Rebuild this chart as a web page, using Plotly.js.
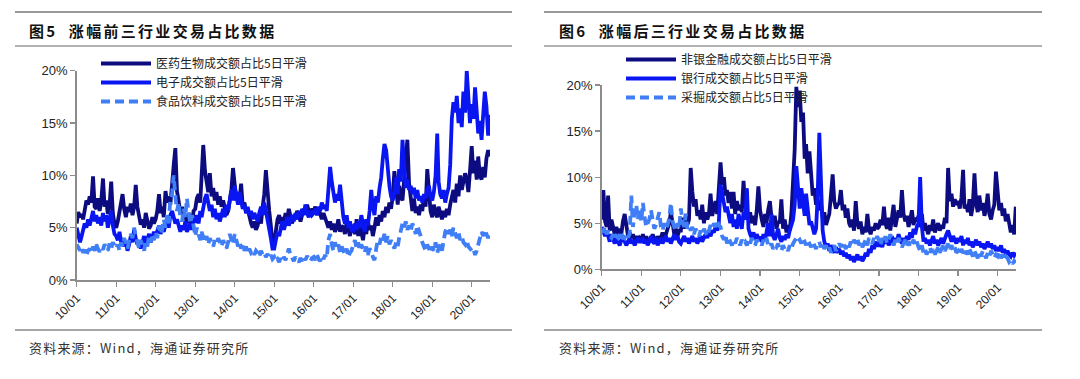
<!DOCTYPE html>
<html>
<head>
<meta charset="utf-8">
<script src="https://cdn.plot.ly/plotly-3.0.1.min.js"></script>
<style>
html,body{margin:0;padding:0;background:#fff;}
#chart{width:1080px;height:379px;}
g.annotation[data-index="0"] text, g.annotation[data-index="2"] text{letter-spacing:2.3px;}
g.annotation[data-index="1"] text, g.annotation[data-index="3"] text{letter-spacing:1.2px;}
</style>
</head>
<body>
<div id="chart"></div>
<script>
// ---- tick labels (year starts) ----
const yearTicks = ['10/01','11/01','12/01','13/01','14/01','15/01','16/01','17/01','18/01','19/01','20/01'];

// ---- Figure 5: top-three industries, 5-day smoothed turnover share (%), half-monthly readings ----
const pharma = [ // 医药生物
 5.4,6.5,6.0,6.3,5.8,7.0,7.6,7.2,8.0,7.4,9.9,7.0,6.8,7.8,6.6,7.5,9.7,7.0,7.6,6.3,7.2,9.4,6.4,5.4,
 5.0,5.6,6.4,7.2,8.2,6.8,6.0,7.0,6.5,7.3,6.2,7.0,9.1,7.0,6.2,5.3,5.8,5.0,6.4,5.6,4.9,5.2,6.0,5.4,
 5.8,6.6,8.2,6.4,7.0,6.0,8.5,7.4,8.0,7.2,9.6,11.0,12.6,8.5,7.5,6.4,7.0,5.8,6.2,5.4,6.4,5.7,5.2,6.6,
 6.8,7.8,8.2,7.4,9.6,12.9,10.4,9.2,8.4,10.2,8.0,8.8,7.6,8.4,7.2,8.0,7.0,7.6,6.8,6.2,6.6,7.4,8.6,10.7,
 8.6,7.6,8.4,7.8,9.2,7.0,7.4,6.4,6.8,6.0,5.4,5.0,5.6,4.8,5.2,6.0,5.4,7.0,8.2,10.5,7.8,6.6,5.2,3.4,
 3.6,4.6,5.8,6.2,5.4,6.0,5.6,6.4,5.8,6.8,6.0,5.4,6.2,5.8,6.6,6.0,5.6,6.2,6.8,6.4,7.2,6.6,6.2,6.8,
 6.6,7.0,6.2,6.8,6.4,5.8,6.4,6.0,5.4,5.0,5.6,4.8,5.4,4.6,5.0,5.8,4.6,5.2,5.0,4.4,5.6,4.8,4.2,5.2,
 5.0,4.4,5.8,4.2,5.4,4.6,3.8,5.0,4.4,5.6,4.8,5.2,4.2,5.0,6.0,5.2,6.2,5.6,6.6,6.0,7.0,6.4,7.4,6.8,
 8.0,10.4,8.6,7.2,9.0,8.0,7.6,9.6,10.8,13.4,9.2,7.4,6.6,7.8,6.4,7.0,6.2,7.2,6.6,8.0,7.0,10.6,8.2,6.6,
 6.0,7.2,6.4,6.0,7.0,6.2,5.8,6.6,6.0,6.8,6.2,7.2,7.8,8.6,7.4,9.2,8.0,10.0,8.6,9.4,10.2,9.6,8.4,10.4,
 12.8,10.2,11.4,9.6,11.8,10.0,9.6,10.8,9.8,11.6,12.4,11.8
];
const electronics = [ // 电子
 5.0,4.4,3.6,4.2,4.8,5.4,5.0,5.8,5.2,6.0,6.6,5.6,6.2,5.4,6.0,5.2,6.4,5.6,6.2,5.0,5.8,6.6,5.2,4.4,
 4.2,3.8,4.6,3.6,4.0,3.2,3.6,2.8,3.4,4.2,3.6,4.8,4.0,3.4,3.8,3.0,3.6,4.2,3.4,3.8,4.4,3.6,4.0,4.6,
 4.2,4.8,5.2,4.4,5.0,4.6,5.4,5.8,5.0,6.2,6.6,6.0,5.4,5.8,5.0,4.6,5.2,4.8,5.6,4.6,5.0,5.4,4.8,5.6,
 5.6,6.2,5.4,6.6,6.0,7.0,7.8,8.2,7.4,6.6,7.2,6.0,6.8,5.8,6.4,5.6,6.2,6.8,6.0,7.2,6.6,7.8,8.6,7.6,
 9.0,8.0,7.2,8.4,7.6,6.8,7.2,6.4,7.0,6.2,6.6,5.8,6.4,6.0,5.6,6.4,7.0,6.2,7.4,6.6,5.8,5.0,4.0,3.0,
 3.0,3.8,4.6,4.2,5.0,5.6,4.8,5.4,6.0,5.2,5.8,6.2,5.6,6.4,5.8,6.6,6.0,6.8,6.2,7.2,6.4,6.0,6.6,6.2,
 6.4,6.8,6.2,7.0,6.6,7.4,6.8,7.2,6.6,8.4,10.8,9.4,8.0,7.4,8.2,7.6,9.1,7.0,6.0,5.4,6.2,5.0,5.6,4.8,
 4.6,5.4,4.8,5.6,5.0,6.2,5.2,4.6,5.8,5.2,6.6,8.6,7.0,6.2,8.0,7.4,8.8,9.8,11.6,13.0,12.4,10.2,9.0,8.0,
 7.6,8.4,9.8,8.2,10.6,9.4,13.4,11.0,8.8,9.6,8.6,9.0,8.2,8.8,7.8,8.6,7.6,8.0,7.4,8.2,7.8,8.6,9.0,8.0,
 7.6,8.4,10.0,14.0,9.4,8.2,7.8,8.6,7.4,8.2,8.8,11.0,15.4,17.0,16.0,17.6,15.0,16.4,14.6,18.0,16.0,20.0,17.4,15.0,
 16.8,15.4,18.4,16.2,14.0,15.2,13.4,15.8,18.0,16.6,13.8,15.8
];
const foodBev = [ // 食品饮料
 3.4,3.0,2.8,3.2,2.6,2.9,2.4,2.8,3.0,2.6,3.2,2.8,3.4,3.0,2.7,3.1,2.9,3.4,3.0,2.8,3.5,3.0,3.6,3.2,
 3.0,3.4,2.8,3.6,3.2,4.0,3.4,3.0,3.8,4.4,4.0,5.0,4.2,3.4,3.0,3.8,3.2,2.8,3.6,3.2,4.2,3.6,4.4,3.8,
 4.6,4.0,5.2,4.4,4.8,5.8,5.0,6.2,5.4,7.8,8.2,10.0,8.0,6.6,7.4,6.0,5.6,6.8,6.0,7.8,6.4,5.4,6.2,5.0,
 4.2,5.0,4.4,3.8,4.6,4.0,3.6,4.2,3.4,4.0,3.6,3.2,3.8,3.4,4.0,3.6,3.2,3.8,3.4,3.0,3.6,4.4,3.8,3.4,
 4.4,3.8,3.2,3.6,3.0,3.4,2.8,3.2,2.6,3.0,2.6,2.8,2.4,2.8,2.6,2.2,2.8,2.4,2.6,2.2,2.5,2.1,2.4,2.0,
 2.2,1.8,2.0,1.7,2.1,1.8,2.2,1.9,2.4,3.0,2.4,2.0,1.8,2.2,1.9,1.7,2.1,1.8,2.2,1.9,2.3,2.0,1.8,2.1,
 2.2,1.9,2.4,2.0,1.8,2.3,2.0,2.4,2.1,3.8,4.4,3.4,2.8,3.6,3.0,3.4,2.6,3.2,2.8,2.4,3.0,2.2,2.6,2.8,
 3.4,3.8,3.0,3.6,2.8,3.4,3.0,2.6,3.2,2.4,3.0,2.8,2.2,1.9,3.0,3.8,3.4,4.2,3.8,4.4,3.6,4.2,3.4,3.8,
 3.4,3.0,3.6,3.2,4.0,4.6,5.4,5.0,5.6,4.8,5.2,4.6,5.4,5.0,4.4,5.2,4.8,4.2,3.6,3.2,2.8,3.4,3.0,2.6,
 3.2,2.8,3.6,2.6,3.0,3.4,2.8,3.8,4.6,5.0,4.4,4.8,4.2,5.0,4.6,4.0,4.6,3.8,4.2,3.6,3.4,3.8,3.2,3.0,
 2.8,3.0,2.4,2.8,3.4,4.0,4.6,4.2,4.8,4.4,4.0,4.4
];

// ---- Figure 6: bottom-three industries ----
const nonBank = [ // 非银金融
 5.4,8.6,5.2,4.6,8.0,4.2,5.4,4.4,3.8,4.6,3.6,4.4,3.8,5.2,6.0,4.8,3.6,4.0,3.4,3.8,3.2,3.6,3.0,3.4,
 3.2,3.8,3.0,3.6,2.8,3.4,3.0,3.8,3.2,2.8,3.6,3.0,3.4,4.0,3.2,3.8,4.4,5.0,6.2,4.8,3.8,4.4,3.6,4.2,
 4.2,5.6,4.4,6.0,4.8,5.4,11.0,8.4,6.8,7.6,5.8,6.4,5.4,7.0,5.0,6.2,5.4,6.0,8.2,5.8,6.6,7.4,6.0,9.4,
 11.6,9.2,10.0,8.0,8.6,7.2,8.4,6.6,8.4,6.0,7.4,6.4,7.0,6.2,9.6,7.0,6.4,5.4,6.2,5.0,5.8,4.8,6.4,9.0,
 6.4,5.4,4.6,6.0,5.0,6.4,7.4,5.6,4.8,5.8,4.4,5.2,5.0,7.6,4.4,5.4,4.0,4.8,4.2,6.0,9.0,13.0,19.8,17.6,
 19.4,16.0,17.0,12.0,13.6,10.4,12.8,9.6,8.0,8.8,7.0,7.6,6.4,7.2,5.6,6.2,4.8,5.4,6.0,8.0,10.3,7.4,6.6,7.0,
 7.2,8.6,6.4,7.0,5.6,6.6,5.0,4.6,5.4,4.2,7.4,5.0,4.4,5.2,3.8,4.6,4.0,6.0,4.4,3.8,4.6,4.2,5.0,4.4,
 4.6,5.4,4.8,6.8,5.0,4.4,5.6,4.2,5.4,7.0,4.6,5.8,6.4,5.6,8.6,6.0,5.2,5.8,4.6,5.4,6.4,4.8,5.6,5.2,
 5.8,4.6,6.0,4.2,5.0,4.4,3.8,4.8,4.2,5.4,4.0,4.6,5.0,4.2,4.8,4.4,5.6,5.0,11.0,7.4,8.2,6.8,7.6,7.0,
 7.4,6.6,7.8,10.8,6.6,7.0,6.2,7.6,5.8,6.8,10.4,7.2,6.2,8.0,6.4,7.2,5.8,6.6,8.2,6.0,5.4,6.4,7.0,10.6,
 8.8,6.4,7.2,5.8,6.6,5.2,6.0,4.6,4.0,4.8,3.8,6.8
];
const banks = [ // 银行
 4.6,4.0,3.6,4.2,3.4,3.0,3.8,3.2,2.8,3.4,3.0,2.6,3.2,3.6,3.0,2.6,3.0,3.4,2.8,3.2,2.6,3.0,3.4,3.0,
 3.0,3.4,2.8,3.2,2.6,3.0,3.6,3.0,2.8,3.4,2.6,3.0,3.4,2.8,3.2,3.6,3.0,3.4,2.8,3.2,3.8,3.2,3.6,3.0,
 2.8,3.2,3.6,3.0,3.4,2.8,3.2,3.6,3.0,3.4,2.8,3.2,3.6,3.0,3.4,3.8,3.4,4.0,3.6,4.2,4.0,4.6,4.2,5.0,
 9.2,8.0,7.0,6.2,6.8,5.6,5.0,6.0,4.6,5.4,4.4,6.0,5.0,4.4,6.2,5.4,8.8,4.4,3.8,3.4,4.0,3.2,3.8,3.4,
 3.4,3.0,3.8,3.2,4.0,5.0,3.6,6.0,3.6,3.2,3.8,4.4,3.4,3.0,3.6,3.2,3.8,3.4,4.2,4.8,5.4,7.0,11.2,9.0,
 6.6,8.8,7.0,5.8,8.2,6.4,4.8,5.2,4.6,3.8,4.4,8.0,14.8,9.0,4.2,3.0,2.4,2.8,2.0,2.6,2.2,1.8,2.4,2.0,
 2.2,1.6,2.0,1.4,1.8,1.2,1.6,1.0,1.4,0.8,1.2,1.6,1.0,1.4,0.9,1.2,1.8,1.4,2.2,1.8,2.6,2.2,3.0,2.6,
 2.6,3.0,2.4,3.2,2.8,3.4,2.6,3.0,3.6,2.8,3.4,3.0,3.8,3.2,2.8,3.4,3.0,3.6,3.2,4.0,3.4,4.4,3.8,4.6,
 5.0,10.0,4.6,3.0,3.4,2.8,3.2,2.6,3.0,3.6,2.8,3.2,2.6,3.0,3.4,2.8,3.2,3.8,4.2,3.4,3.0,3.6,3.2,2.8,
 3.4,3.0,3.6,2.6,3.2,2.8,3.4,2.6,3.0,2.4,2.8,3.2,2.6,3.0,2.4,2.8,2.2,2.6,3.0,2.4,2.8,2.2,2.6,2.0,
 2.4,2.0,2.6,1.8,2.2,1.6,2.0,1.6,1.4,1.8,1.5,1.8
];
const mining = [ // 采掘
 4.4,4.0,4.6,3.8,4.2,3.6,3.4,3.8,3.2,3.6,3.4,3.8,3.2,3.6,3.4,3.9,3.5,3.8,8.0,4.6,6.0,7.0,5.4,6.6,
 5.2,7.2,5.6,4.6,5.0,5.4,6.4,5.2,4.4,4.8,5.4,6.2,4.6,4.2,5.0,4.4,4.8,5.6,7.2,5.2,4.6,4.2,5.0,4.4,
 6.6,5.2,4.6,6.0,4.4,4.8,4.2,4.6,3.8,4.4,4.0,3.6,4.2,3.8,4.4,4.0,3.6,4.2,4.8,4.4,5.0,4.6,5.2,4.8,
 4.6,3.6,3.2,3.8,2.8,3.4,3.0,2.6,3.2,2.8,3.4,3.0,2.6,3.2,2.8,3.0,2.6,3.2,2.8,3.4,3.0,2.6,3.2,2.9,
 3.0,2.6,3.2,2.8,3.4,2.6,2.4,2.8,2.2,2.6,2.4,2.8,2.2,2.0,2.6,2.2,2.4,2.0,2.6,2.2,2.8,3.2,3.4,3.0,
 3.2,2.8,3.4,3.0,2.6,3.2,2.8,2.4,3.0,2.6,2.2,2.8,3.0,2.4,2.8,2.2,2.6,2.0,2.4,1.8,2.2,2.6,2.0,2.4,
 2.8,2.4,3.0,2.6,2.2,2.8,2.4,3.0,2.6,3.2,2.8,3.4,2.6,3.0,2.4,2.8,3.2,2.6,3.4,3.0,2.8,3.4,3.0,3.6,
 3.0,2.6,3.4,3.0,3.6,2.8,3.2,3.8,3.0,2.6,3.2,2.8,3.4,3.0,2.4,2.8,3.2,2.6,3.0,2.4,2.8,3.2,2.6,3.0,
 2.4,2.0,2.6,1.8,2.2,1.6,2.0,2.4,1.8,2.2,1.6,2.0,2.4,1.8,2.2,2.6,2.0,2.4,2.8,2.2,2.6,2.0,2.4,1.8,
 2.0,1.6,2.2,1.8,1.4,2.0,1.6,2.2,1.8,1.4,2.0,1.6,1.2,1.8,1.4,2.0,1.6,1.2,1.8,1.4,2.0,1.6,1.2,1.6,
 1.4,1.8,1.2,1.6,1.0,1.4,1.2,0.8,1.0,0.6,0.9,0.7
];

const seriesNames5 = ['医药生物成交额占比5日平滑','电子成交额占比5日平滑','食品饮料成交额占比5日平滑'];
const seriesNames6 = ['非银金融成交额占比5日平滑','银行成交额占比5日平滑','采掘成交额占比5日平滑'];
const titles = ['<b>图5  涨幅前三行业交易占比数据</b>','<b>图6  涨幅后三行业交易占比数据</b>'];
const sourceText = '资料来源：Wind，海通证券研究所';

// half-month sampling dates (1st and 16th of each month, from Jan 2010)
function halfMonthDates(n){
  const out=[];
  for(let i=0;i<n;i++){
    const y=2010+Math.floor(i/24), m=Math.floor((i%24)/2)+1, d=(i%2)?16:1;
    out.push(y+'-'+String(m).padStart(2,'0')+'-'+String(d).padStart(2,'0'));
  }
  return out;
}
const dates = halfMonthDates(pharma.length);
const tickDates = yearTicks.map(t => '20'+t.slice(0,2)+'-01-01');

const NAVY='#0c0c80', BLUE='#0a16f2', LIGHT='#3f7ef6';
function tr(y, name, color, dash, xa, ya, lg){
  return {x: dates, y: y, name: name, type:'scatter', mode:'lines',
    xaxis: xa, yaxis: ya, legend: lg,
    line:{color: color, width: 3.8, dash: dash}, hoverinfo:'skip'};
}
const data = [
  tr(pharma, seriesNames5[0], NAVY, 'solid', 'x', 'y', 'legend'),
  tr(electronics, seriesNames5[1], BLUE, 'solid', 'x', 'y', 'legend'),
  tr(foodBev, seriesNames5[2], LIGHT, '9px,5px', 'x', 'y', 'legend'),
  tr(nonBank, seriesNames6[0], NAVY, 'solid', 'x2', 'y2', 'legend2'),
  tr(banks, seriesNames6[1], BLUE, 'solid', 'x2', 'y2', 'legend2'),
  tr(mining, seriesNames6[2], LIGHT, '9px,5px', 'x2', 'y2', 'legend2')
];

const W=1080, H=379;
const AX='#8c8c8c';
const tickFont={family:'Liberation Sans, Arial, sans-serif', size:12, color:'#222'};
function xAxis(domain, anchor){
  return {domain: domain, anchor: anchor, type:'date', range:['2010-01-01','2020-06-18'],
    tickmode:'array', tickvals: tickDates, ticktext: yearTicks, tickangle:-45,
    ticks:'outside', ticklen:5, tickwidth:1.3, tickcolor:AX, showline:true, linecolor:AX, linewidth:1.5,
    showgrid:false, zeroline:false, tickfont: tickFont, fixedrange:true};
}
function yAxis(domain, anchor){
  return {domain: domain, anchor: anchor, range:[0,20], tickmode:'linear', tick0:0, dtick:5, ticksuffix:'%',
    ticks:'outside', ticklen:5, tickwidth:1.3, tickcolor:AX, showline:true, linecolor:AX, linewidth:1.5,
    showgrid:false, zeroline:false, tickfont:{family:tickFont.family, size:13, color:'#222'}, fixedrange:true};
}
const px = v => v/W, py = v => 1 - v/H;
function hline(x0,x1,y,color){
  return {type:'line', xref:'paper', yref:'paper', x0:px(x0), x1:px(x1), y0:py(y), y1:py(y),
    line:{color:color, width:1.5}};
}
const cjk='Noto Sans CJK SC, sans-serif';
function ann(text, x, y, size, color){
  return {text:text, xref:'paper', yref:'paper', x:px(x), y:py(y), xanchor:'left', yanchor:'middle',
    align:'left', showarrow:false, font:{family:cjk, size:size, color:color}};
}
const legendBase = {xanchor:'left', yanchor:'top', bgcolor:'rgba(0,0,0,0)', borderwidth:0,
  font:{family:cjk, size:12, color:'#222'}, itemwidth:50, tracegroupgap:0, itemclick:false, itemdoubleclick:false};

const layout = {
  width:W, height:H, margin:{l:0,r:0,t:0,b:0}, paper_bgcolor:'#fff', plot_bgcolor:'#fff',
  showlegend:true,
  xaxis: xAxis([px(76.7), px(490)], 'y'),
  yaxis: yAxis([1-280/H, 1-70.7/H], 'x'),
  xaxis2: xAxis([px(601.7), px(1016)], 'y2'),
  yaxis2: yAxis([1-269.3/H, 1-85/H], 'x2'),
  legend: Object.assign({}, legendBase, {x:px(96), y:py(49)}),
  legend2: Object.assign({}, legendBase, {x:px(621), y:py(45)}),
  shapes:[
    hline(15,512,12,'#777'), hline(15,512,46,'#999'), hline(15,512,330,'#888'),
    hline(544,1042,12,'#777'), hline(544,1042,46,'#999'), hline(544,1042,330,'#888')
  ],
  annotations:[
    ann(titles[0], 27, 30, 15, '#111'),
    ann(sourceText, 27, 347, 13, '#333'),
    ann(titles[1], 557, 30, 15, '#111'),
    ann(sourceText, 557, 347, 13, '#333')
  ]
};

Plotly.newPlot('chart', data, layout, {displayModeBar:false, staticPlot:true});
</script>
</body>
</html>
